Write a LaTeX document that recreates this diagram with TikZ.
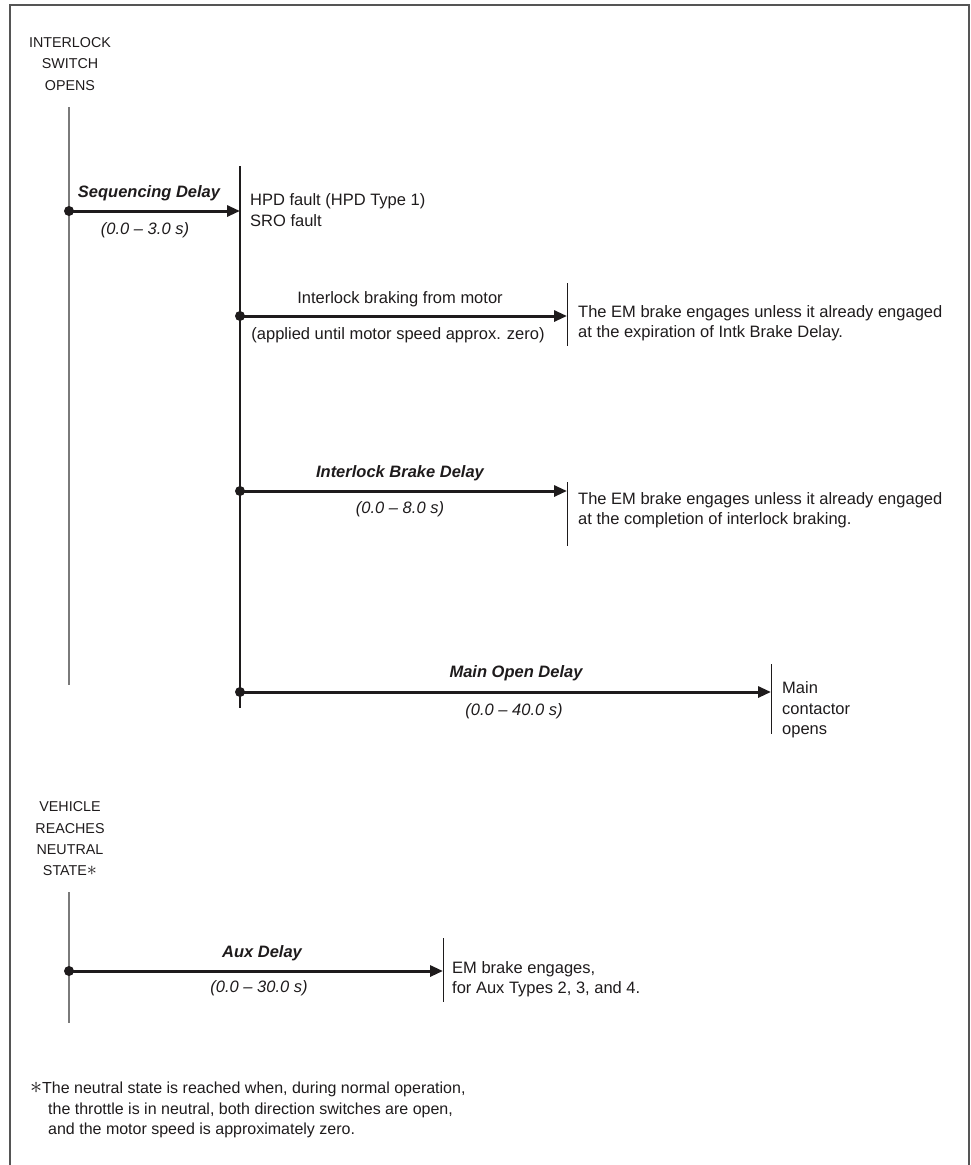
\documentclass[tikz,border=0pt]{standalone}
\usepackage{fontspec}
\setmainfont{Liberation Sans}
\usetikzlibrary{arrows.meta}
\definecolor{ink}{HTML}{1E1B1C}
\definecolor{frame}{HTML}{555555}
\definecolor{greyline}{HTML}{7A7A7A}
\newcommand{\bigast}{\smash{\scalebox{1.4}{$\ast$}}}
\begin{document}
\begin{tikzpicture}[x=1pt,y=-1pt,
  lbl/.style={inner sep=0pt, text=ink, font=\fontsize{16.5}{20.5}\selectfont},
  dlbl/.style={lbl, font=\fontsize{16.5}{20.5}\selectfont\bfseries\itshape},
  rng/.style={lbl, font=\fontsize{16.5}{20.5}\selectfont\itshape},
  evt/.style={inner sep=0pt, text=ink, align=center, font=\fontsize{14.3}{21.3}\selectfont},
  note/.style={lbl, align=left, anchor=west},
  dot/.style={circle, fill=ink, inner sep=0pt, minimum size=10pt},
  delay/.style={line width=3pt, draw=ink, -{Triangle[length=13pt,width=11pt]}},
  tline/.style={draw=ink, line width=1.3pt},
  gline/.style={draw=greyline, line width=1.3pt},
  tickline/.style={draw=ink, line width=1pt},
]
\useasboundingbox (0,0) rectangle (971,1165);
% frame (open at the bottom)
\draw[frame, line width=1.6pt] (10,1166) -- (10,5) -- (969,5) -- (969,1166);

% ---------- interlock switch opens ----------
\node[evt] (ev1) at (70,64) {INTERLOCK\\SWITCH\\OPENS};
\coordinate (v1top) at (69,107);
\coordinate (v1bot) at (69,685);
\draw[gline] (v1top) -- (v1bot);

\coordinate (v2top) at (240,166);
\coordinate (v2bot) at (240,708);
\draw[tline] (v2top) -- (v2bot);

% sequencing delay
\node[dot] (d1) at (69,211) {};
\coordinate (k1) at (240,211);
\draw[delay] (d1.center) -- (k1);
\node[dlbl] (l1a) at (149,193) {Sequencing Delay};
\node[rng] (l1b) at (145,230) {(0.0 – 3.0 s)};
\node[note] (n1) at (250,210) {HPD fault (HPD Type 1)\\SRO fault};

% interlock braking
\node[dot] (d2) at (240,316) {};
\coordinate (k2) at (567,316);
\coordinate (k2t) at (567,283);
\coordinate (k2b) at (567,346);
\draw[tickline] (k2t) -- (k2b);
\draw[delay] (d2.center) -- (k2);
\node[lbl] (l2a) at (400,299) {Interlock braking from motor};
\node[lbl] (l2b) at (398,335) {(applied until motor speed approx. zero)};
\node[note] (n2) at (578,323) {The EM brake engages unless it already engaged\\at the expiration of Intk Brake Delay.};

% interlock brake delay
\node[dot] (d3) at (240,491) {};
\coordinate (k3) at (567,491);
\coordinate (k3t) at (567,482);
\coordinate (k3b) at (567,546);
\draw[tickline] (k3t) -- (k3b);
\draw[delay] (d3.center) -- (k3);
\node[dlbl] (l3a) at (400,473) {Interlock Brake Delay};
\node[rng] (l3b) at (400,509) {(0.0 – 8.0 s)};
\node[note] (n3) at (578,510) {The EM brake engages unless it already engaged\\at the completion of interlock braking.};

% main open delay
\node[dot] (d4) at (240,692) {};
\coordinate (k4) at (771,692);
\coordinate (k4t) at (771,664);
\coordinate (k4b) at (771,734);
\draw[tickline] (k4t) -- (k4b);
\draw[delay] (d4.center) -- (k4);
\node[dlbl] (l4a) at (516,673) {Main Open Delay};
\node[rng] (l4b) at (514,711) {(0.0 – 40.0 s)};
\node[note] (n4) at (782,710) {Main\\contactor\\opens};

% ---------- vehicle reaches neutral state ----------
\node[evt] (ev2) at (70,839) {VEHICLE\\REACHES\\NEUTRAL\\STATE\bigast};
\coordinate (v3top) at (69,892);
\coordinate (v3bot) at (69,1023);
\draw[gline] (v3top) -- (v3bot);

\node[dot] (d5) at (69,971) {};
\coordinate (k5) at (443,971);
\coordinate (k5t) at (443,938);
\coordinate (k5b) at (443,1002);
\draw[tickline] (k5t) -- (k5b);
\draw[delay] (d5.center) -- (k5);
\node[dlbl] (l5a) at (262,953) {Aux Delay};
\node[rng] (l5b) at (259,988) {(0.0 – 30.0 s)};
\node[note] (n5) at (452,979) {EM brake engages,\\for Aux Types 2, 3, and 4.};

% footnote
\node[note, font=\fontsize{16}{20.7}\selectfont] (fn) at (30,1110)
  {\makebox[12pt][l]{\bigast}The neutral state is reached when, during normal operation,\\
   \hspace*{18pt}the throttle is in neutral, both direction switches are open,\\
   \hspace*{18pt}and the motor speed is approximately zero.};
\end{tikzpicture}
\end{document}
